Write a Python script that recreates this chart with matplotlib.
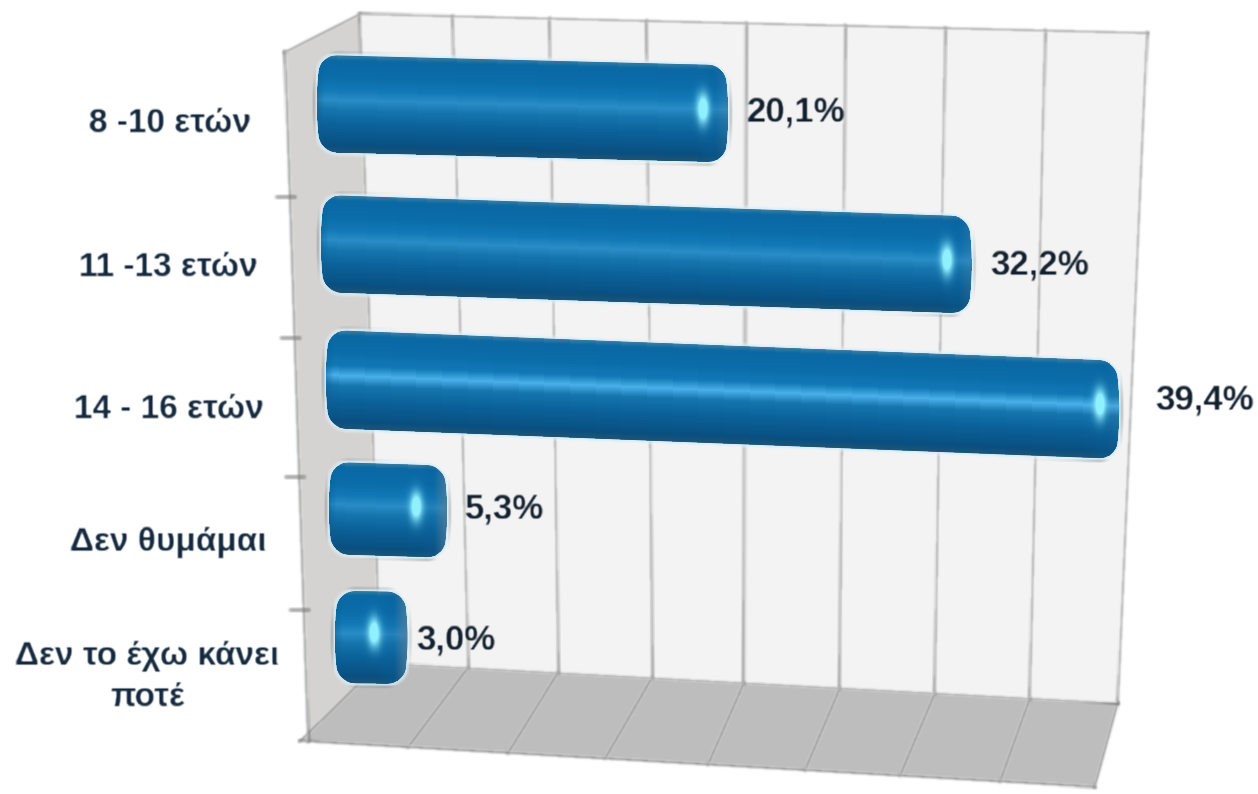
import numpy as np
import matplotlib
matplotlib.use("Agg")
import matplotlib.pyplot as plt
from matplotlib.colors import to_rgb
from matplotlib.patches import Polygon

plt.rcParams['font.family'] = ['Liberation Sans', 'DejaVu Sans']

# chart values
categories = ["8 -10 ετών", "11 -13 ετών", "14 - 16 ετών", "Δεν θυμάμαι", "Δεν το έχω κάνει\nποτέ"]
values = [20.1, 32.2, 39.4, 5.3, 3.0]
value_labels = ["20,1%", "32,2%", "39,4%", "5,3%", "3,0%"]

# layout of the 3d box, in picture pixels
wall_top_x = [360, 453, 550, 647, 746, 845, 945, 1045, 1147]
wall_bottom_x = [380, 468, 558, 652, 744, 840, 935, 1030, 1118]
floor_front_x = [300, 408, 508, 605, 708, 805, 900, 1000, 1095]
left_ticks_y = [197, 338, 477, 610]

# layout of the bars
bar_left = [317, 321, 326, 329, 335]
bar_top = [55, 195, 330, 462, 591]
bar_height = [97, 97, 98, 92, 92]
bar_slope = [0.025, 0.033, 0.039, 0.032, 0.012]
spot_offset = [25, 25, 19, 31, 33]
rim_alpha = [0.3, 0.3, 0.15, 0.75, 0.75]
glow = [0.55, 0.6, 1.0, 0.35, 0.3]
label_x = [747, 990, 1155, 465, 416]
label_y = [112, 265, 400, 509, 640]
cat_x = [170, 168, 169, 168, 147]
cat_y = [123, 268, 409, 542, 677]

PX_PER_PCT = 19.8
BAR_BASE = 13


def soften(image, dpi):
    # small box blur, the source picture is a scaled up bitmap
    pad = 4
    out = np.pad(image, ((pad, pad), (pad, pad), (0, 0)), mode="constant")
    for _ in range(2):
        for axis in (0, 1):
            out = (np.roll(out, 1, axis=axis) + out + np.roll(out, -1, axis=axis)) / 3.0
    return out, -pad, -pad


def soften_text(image, dpi):
    pad = 2
    out = np.pad(image, ((pad, pad), (pad, pad), (0, 0)), mode="constant")
    for axis in (0, 1):
        out = (0.25 * np.roll(out, 1, axis=axis) + 0.5 * out + 0.25 * np.roll(out, -1, axis=axis))
    return out, -pad, -pad


def line_y(x, x0, y0, x1, y1):
    return y0 + (np.asarray(x, dtype=float) - x0) * (y1 - y0) / (x1 - x0)


def draw_box(ax):
    top_y = line_y(wall_top_x, 360, 14, 1147, 33)
    bottom_y = line_y(wall_bottom_x, 380, 663, 1118, 703)
    front_y = line_y(floor_front_x, 300, 741, 1095, 787)

    ax.add_patch(Polygon([(360, 14), (1147, 33), (1118, 703), (380, 663)],
                         facecolor="#f3f3f3", edgecolor="none", zorder=1))
    ax.add_patch(Polygon([(285, 52), (360, 14), (380, 663), (308, 741)],
                         facecolor="#d4d3d2", edgecolor="none", zorder=1))
    ax.add_patch(Polygon([(380, 663), (1118, 703), (1095, 787), (300, 741)],
                         facecolor="#bdbdbd", edgecolor="none", zorder=1))

    lines = []
    for i in range(len(wall_top_x)):
        lines += ax.plot([wall_top_x[i], wall_bottom_x[i]], [top_y[i], bottom_y[i]],
                         color="#a3a3a3", lw=1.8, zorder=2)
        lines += ax.plot([wall_bottom_x[i], floor_front_x[i]], [bottom_y[i], front_y[i]],
                         color="#8c8c8c", lw=1.5, zorder=2)

    lines += ax.plot([285, 360, 1147], [52, 14, 33], color="#a0a0a0", lw=1.8, zorder=2)
    lines += ax.plot([380, 1118], [663, 703], color="#a0a0a0", lw=1.2, zorder=2)
    lines += ax.plot([300, 1095], [741, 787], color="#858585", lw=1.6, zorder=2)
    lines += ax.plot([285, 308], [52, 741], color="#a3a3a3", lw=2, zorder=2)

    for y in left_ticks_y:
        x = line_y(y, 52, 285, 741, 308)
        lines += ax.plot([x - 13, x + 5], [y, y], color="#858585", lw=1.5, zorder=2)

    for line in lines:
        line.set_snap(False)
        line.set_agg_filter(soften)


def draw_bar(ax, row, value):
    length = BAR_BASE + PX_PER_PCT * value
    left, top, height = bar_left[row], bar_top[row], bar_height[row]
    slope = bar_slope[row]

    s = np.linspace(0, length, int(length) + 1)
    t = np.linspace(0, 1, height + 1)
    S, T = np.meshgrid(s, t)
    X = left + S
    Y = top + T * height + S * slope

    # colour across the tube
    sm = 0.5 * (s[:-1] + s[1:])
    tm = 0.5 * (t[:-1] + t[1:])
    stops = [0, 0.05, 0.22, 0.36, 0.46, 0.56, 0.72, 0.93, 1]
    light = "#4ab0ea" if glow[row] > 0.8 else "#2a8cc6"
    names = ["#3a7da3", "#0a68a3", "#0a6ca9", "#1279b6", light, "#1675ad", "#0b6199", "#094f80", "#1f5475"]
    rgb = np.array([to_rgb(n) for n in names])
    across = np.stack([np.interp(tm, stops, rgb[:, k]) for k in range(3)], axis=1)
    C = np.repeat(across[:, None, :], len(sm), axis=1)

    SM, TM = np.meshgrid(sm, tm)
    dist_right = length - SM

    # grey rim on the right hand cap, darker band just before it
    band = np.exp(-((dist_right - 16) / 9.0) ** 2)[..., None] * 0.25
    C = C * (1 - band) + np.array(to_rgb("#0a5f99")) * band
    rim = np.clip(1 - dist_right / 13, 0, 1)[..., None] * rim_alpha[row]
    C = C * (1 - rim) + np.array(to_rgb("#557c98")) * rim

    # darker rim on the left end
    lrim = np.clip(1 - SM / 8, 0, 1)[..., None] * 0.45
    C = C * (1 - lrim) + np.array(to_rgb("#0b5c90")) * lrim

    # small bright spot near the cap
    spot = np.exp(-((dist_right - spot_offset[row]) / 6.0) ** 2 - ((TM - 0.45) / 0.15) ** 2)
    spot = np.clip(1.5 * spot, 0, 1)[..., None]
    C = C * (1 - spot) + np.array(to_rgb("#8ff0ff")) * spot

    # outline: rounded corners plus a slight barrel shape on the ends
    r = 16.0
    b = 4.0
    tt = np.linspace(0, 1, 200)
    d = np.minimum(tt, 1 - tt) * height
    corner = np.where(d < r, r - np.sqrt(np.maximum(r ** 2 - (r - d) ** 2, 0)), 0)
    inset = b * (2 * tt - 1) ** 2 + corner
    xl, xr = inset, length - inset
    px = np.concatenate([xl, xr[::-1]])
    pt = np.concatenate([tt, tt[::-1]])
    outline = np.column_stack([left + px, top + pt * height + px * slope])

    halo = Polygon(outline, closed=True, facecolor="none", edgecolor="#d6ecf7",
                   lw=4, alpha=0.8, zorder=3)
    ax.add_patch(halo)
    halo.set_agg_filter(soften)
    clip = Polygon(outline, closed=True, facecolor="#0a6aa6", edgecolor="none", zorder=4)
    ax.add_patch(clip)
    mesh = ax.pcolormesh(X, Y, C, shading="flat", zorder=5, antialiased=False)
    mesh.set_clip_path(clip)


fig = plt.figure(figsize=(12.58, 7.94), dpi=100)
ax = fig.add_axes([0, 0, 1, 1])
ax.set_xlim(0, 1258)
ax.set_ylim(794, 0)
ax.axis("off")

draw_box(ax)

for i, v in enumerate(values):
    draw_bar(ax, i, v)
    txt = ax.text(label_x[i], label_y[i], value_labels[i], ha="left", va="center",
                  fontsize=25, fontweight="bold", color="#12202e", zorder=6)
    txt.set_agg_filter(soften_text)

for i, c in enumerate(categories):
    txt = ax.text(cat_x[i], cat_y[i], c, ha="center", va="center", fontsize=24,
                  fontweight="bold", color="#14293d", linespacing=1.45, zorder=6)
    txt.set_agg_filter(soften_text)

fig.savefig("out.png", dpi=100)
